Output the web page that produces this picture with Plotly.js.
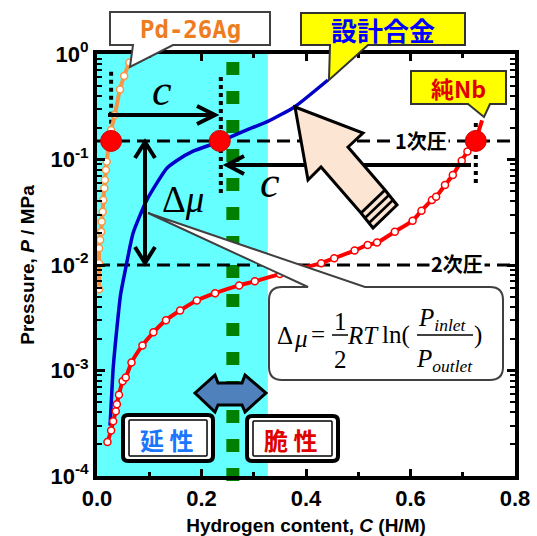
<!DOCTYPE html>
<html>
<head>
<meta charset="utf-8">
<script src="https://cdn.plot.ly/plotly-3.0.1.min.js"></script>
<style>html,body{margin:0;padding:0;background:#fff;}#chart{width:537px;height:536px;}</style>
</head>
<body>
<div id="chart"></div>
<script>
// ---------- data ----------
const pdC = [0.004, 0.004, 0.004, 0.006, 0.008, 0.009, 0.011, 0.012, 0.014, 0.015, 0.017, 0.0185, 0.027, 0.034, 0.044, 0.052, 0.062];
const pdP = [0.0059, 0.0104, 0.0144, 0.0173, 0.0207, 0.0257, 0.032, 0.0413, 0.0533, 0.064, 0.0795, 0.095, 0.19, 0.264, 0.46, 0.62, 0.83];

const alloyC = [0.025, 0.031, 0.038, 0.045, 0.055, 0.069, 0.095, 0.133, 0.153, 0.184, 0.235, 0.286, 0.327, 0.378, 0.442];
const alloyP = [3.0e-4, 1.06e-3, 2.5e-3, 5.2e-3, 9.4e-3, 0.020, 0.041, 0.082, 0.098, 0.120, 0.148, 0.190, 0.230, 0.315, 0.567];

const nbC = [0.020, 0.027, 0.031, 0.036, 0.038, 0.042, 0.049, 0.055, 0.066, 0.087, 0.108, 0.132, 0.159, 0.191, 0.226, 0.272, 0.302, 0.35, 0.39, 0.429, 0.454, 0.493, 0.518, 0.536, 0.570, 0.604, 0.621, 0.641, 0.649, 0.666, 0.681, 0.698, 0.709];
const nbP = [2.1e-4, 2.7e-4, 3.3e-4, 4.1e-4, 4.8e-4, 5.9e-4, 7.9e-4, 8.6e-4, 1.19e-3, 1.73e-3, 2.3e-3, 3.0e-3, 3.7e-3, 4.6e-3, 5.4e-3, 6.4e-3, 7.0e-3, 8.2e-3, 9.3e-3, 0.0104, 0.0116, 0.0137, 0.0155, 0.0163, 0.0207, 0.0263, 0.0327, 0.0413, 0.0444, 0.0573, 0.0713, 0.0975, 0.119];
const nbTailC = [0.709, 0.725, 0.737];
const nbTailP = [0.119, 0.153, 0.235];

const pointC = [0.027, 0.235, 0.725];
const pointP = [0.15, 0.15, 0.15];

const levelP = [0.15, 0.01];

const guideC = [0.027, 0.237, 0.725];
const guideTop = [0.68, 0.605, 0.222];
const guideBottom = [0.15, 0.048, 0.0573];

const ductileLimit = 0.327;
const boundaryC = 0.26;

const xTickVals = [0, 0.2, 0.4, 0.6, 0.8];
const xTickText = ['0.0', '0.2', '0.4', '0.6', '0.8'];
const yTickVals = [1e-4, 1e-3, 1e-2, 1e-1, 1];
const yTickText = ['10<sup>-4</sup>', '10<sup>-3</sup>', '10<sup>-2</sup>', '10<sup>-1</sup>', '10<sup>0</sup>'];

// ---------- helpers ----------
const L = 97, R = 515, T = 54, B = 476;
const fx = px => (px - L) / (R - L);
const fy = py => (B - py) / (B - T);
const P = (x, y) => fx(x).toFixed(4) + ',' + fy(y).toFixed(4);
function poly(pts, close) {
  let s = 'M ' + P(pts[0][0], pts[0][1]);
  for (let i = 1; i < pts.length; i++) s += ' L ' + P(pts[i][0], pts[i][1]);
  return s + (close ? ' Z' : '');
}
function pshape(path, fill, color, width, layer) {
  return {type: 'path', xref: 'paper', yref: 'paper', path: path,
          fillcolor: fill || 'rgba(0,0,0,0)', line: {color: color || 'black', width: width == null ? 2 : width},
          layer: layer || 'above'};
}
function roundRect(x0, y0, x1, y1, r) {
  return 'M ' + P(x0 + r, y0) + ' L ' + P(x1 - r, y0) + ' Q ' + P(x1, y0) + ' ' + P(x1, y0 + r) +
         ' L ' + P(x1, y1 - r) + ' Q ' + P(x1, y1) + ' ' + P(x1 - r, y1) +
         ' L ' + P(x0 + r, y1) + ' Q ' + P(x0, y1) + ' ' + P(x0, y1 - r) +
         ' L ' + P(x0, y0 + r) + ' Q ' + P(x0, y0) + ' ' + P(x0 + r, y0) + ' Z';
}
function ann(text, x, y, font, extra) {
  return Object.assign({text: text, x: fx(x), y: fy(y), xref: 'paper', yref: 'paper',
    showarrow: false, xanchor: 'center', yanchor: 'middle', font: font}, extra || {});
}
const SANS = 'Liberation Sans, Arial, sans-serif';
const SERIF = 'Liberation Serif, Times New Roman, serif';
const CJK = 'Noto Sans CJK JP, sans-serif';

// ---------- traces ----------
const traces = [];
levelP.forEach(p => traces.push({x: [0, 0.8], y: [p, p], mode: 'lines', hoverinfo: 'skip',
  line: {color: 'black', width: 3, dash: '13px,7px'}, showlegend: false}));
guideC.forEach((c, i) => traces.push({x: [c, c], y: [guideTop[i], guideBottom[i]], mode: 'lines', hoverinfo: 'skip',
  line: {color: 'black', width: 4, dash: '4px,4px'}, showlegend: false}));
traces.push({x: pdC, y: pdP, mode: 'lines+markers', showlegend: false,
  line: {color: '#f79646', width: 4, shape: 'spline', smoothing: 0.6},
  marker: {size: 7, color: 'white', line: {color: '#f79646', width: 1.5}}});
traces.push({x: alloyC, y: alloyP, mode: 'lines', showlegend: false,
  line: {color: '#0000c8', width: 3.5, shape: 'spline', smoothing: 0.5}});
traces.push({x: nbTailC, y: nbTailP, mode: 'lines', showlegend: false,
  line: {color: '#ff0000', width: 4}});
traces.push({x: nbC, y: nbP, mode: 'lines+markers', showlegend: false,
  line: {color: '#ff0000', width: 4, shape: 'spline', smoothing: 0.6},
  marker: {size: 7, color: 'white', line: {color: '#ff0000', width: 1.5}}});
traces.push({x: pointC, y: pointP, mode: 'markers', showlegend: false,
  marker: {size: 21, color: '#ff0000', line: {color: '#d00000', width: 1}}});

// ---------- shapes ----------
const shapes = [];
shapes.push({type: 'rect', xref: 'x', yref: 'paper', x0: 0, x1: ductileLimit, y0: 0, y1: 1,
  fillcolor: '#66ffff', line: {width: 0}, layer: 'below'});
shapes.push({type: 'line', xref: 'x', yref: 'paper', x0: boundaryC, x1: boundaryC, y0: fy(62), y1: fy(482),
  line: {color: '#008000', width: 13, dash: '13px,16px'}, layer: 'below'});

// arrows
shapes.push(pshape('M ' + P(108, 115) + ' L ' + P(214, 115) + ' M ' + P(197, 106) + ' L ' + P(215, 115) + ' L ' + P(197, 124), null, 'black', 4));
shapes.push(pshape('M ' + P(471, 165) + ' L ' + P(228, 165) + ' M ' + P(244, 156) + ' L ' + P(227, 165) + ' L ' + P(244, 174), null, 'black', 4));
shapes.push(pshape('M ' + P(145, 143) + ' L ' + P(145, 262) + ' M ' + P(135, 158) + ' L ' + P(145, 142) + ' L ' + P(155, 158) +
  ' M ' + P(135, 247) + ' L ' + P(145, 263) + ' L ' + P(155, 247), null, 'black', 4));

// formula callout
shapes.push(pshape('M ' + P(282, 287) + ' L ' + P(308, 287) + ' L ' + P(148, 213) + ' L ' + P(365, 287) + ' L ' + P(490, 287) +
  ' Q ' + P(503, 287) + ' ' + P(503, 300) + ' L ' + P(503, 367) + ' Q ' + P(503, 380) + ' ' + P(490, 380) +
  ' L ' + P(282, 380) + ' Q ' + P(269, 380) + ' ' + P(269, 367) + ' L ' + P(269, 300) + ' Q ' + P(269, 287) + ' ' + P(282, 287) + ' Z',
  'white', '#404040', 2));
shapes.push(pshape(poly([[332, 335], [348, 335]]), null, 'black', 1.5));
shapes.push(pshape(poly([[417, 335], [473, 335]]), null, 'black', 1.5));

// big peach arrow
shapes.push(pshape(poly([[295, 107], [363, 133], [348, 147], [385, 190], [397, 205], [373, 228], [361, 213], [321, 167], [308, 180]], true),
  '#fde5d3', 'black', 3));
shapes.push(pshape(poly([[385, 190], [361, 213]]), null, 'black', 3));
shapes.push(pshape(poly([[389, 195], [365, 218]]), null, 'black', 2.5));
shapes.push(pshape(poly([[393, 200], [369, 223]]), null, 'black', 2.5));

// double arrow
shapes.push(pshape(poly([[195, 393], [215, 375], [218, 383], [242, 383], [245, 375], [266, 393], [245, 412], [242, 405], [218, 405], [215, 412]], true),
  '#4f81bd', 'black', 3));

// ductile / brittle boxes
shapes.push(pshape(roundRect(123, 415, 213, 461, 5), 'white', 'black', 4));
shapes.push(pshape(roundRect(129, 420, 207, 456, 1), null, 'black', 1.5));
shapes.push(pshape(roundRect(247, 416, 338, 461, 5), 'white', 'black', 4));
shapes.push(pshape(roundRect(253, 421, 332, 456, 1), null, 'black', 1.5));

// label callouts
shapes.push(pshape(poly([[110, 12], [270, 12], [270, 45], [173, 45], [130, 67], [133, 45], [110, 45]], true), 'white', '#404040', 2));
shapes.push(pshape(poly([[301, 13], [465, 13], [465, 45], [368, 45], [329, 80], [330, 45], [301, 45]], true), '#ffff00', '#333333', 2));
shapes.push(pshape(poly([[411, 71], [506, 71], [506, 104], [490, 104], [484, 117], [468, 104], [411, 104]], true), '#ffff00', '#333333', 2));

// ---------- annotations ----------
const fSerif = {family: SERIF, size: 25, color: 'black'};
const annotations = [
  ann('Pd-26Ag', 190, 30, {family: 'DejaVu Sans Mono, monospace', size: 24, color: '#ee7d22', weight: 'bold'}),
  ann('設計合金', 383, 29, {family: CJK, size: 26, color: '#0000ff', weight: 'bold'}),
  ann('純Nb', 458, 88, {family: CJK, size: 23, color: '#e00000', weight: 'bold'}),
  ann('1次圧', 421, 140, {family: CJK, size: 20, color: 'black', weight: 'bold'}, {bgcolor: 'white', borderpad: 1}),
  ann('2次圧', 457, 263, {family: CJK, size: 20, color: 'black', weight: 'bold'}, {bgcolor: 'white', borderpad: 1}),
  ann('延 性', 166, 439, {family: CJK, size: 24, color: '#1a75ff', weight: 'bold'}),
  ann('脆 性', 290, 439, {family: CJK, size: 24, color: '#e00000', weight: 'bold'}),
  ann('<i>c</i>', 162, 90, {family: SERIF, size: 44, color: 'black'}),
  ann('<i>c</i>', 270, 182, {family: SERIF, size: 44, color: 'black'}),
  ann('Δ<i>μ</i>', 183, 199, {family: SERIF, size: 37, color: 'black'}),
  ann('Δ', 285, 335, fSerif),
  ann('<i>μ</i>', 301, 338, fSerif),
  ann('=', 318, 334, fSerif),
  ann('1', 340, 321, fSerif),
  ann('2', 340, 359, fSerif),
  ann('<i>RT</i>', 363, 335, fSerif),
  ann('ln(', 396, 335, fSerif),
  ann('<i>P</i><sub><i>inlet</i></sub>', 442, 319, fSerif),
  ann('<i>P</i><sub><i>outlet</i></sub>', 444, 360, fSerif),
  ann(')', 478, 335, fSerif)
];

// minor tick positions for the log axis
const yMinor = [];
for (let e = -4; e < 0; e++) for (let k = 2; k <= 9; k++) yMinor.push(k * Math.pow(10, e));

const tickFont = {family: SANS, size: 22, color: 'black', weight: 'bold'};
const titleFont = {family: SANS, size: 19, color: 'black', weight: 'bold'};
const layout = {
  width: 537, height: 536,
  margin: {l: L, r: 537 - R, t: T, b: 536 - B},
  paper_bgcolor: 'white', plot_bgcolor: 'white',
  showlegend: false,
  xaxis: {range: [0, 0.8], tickmode: 'array', tickvals: xTickVals, ticktext: xTickText,
    ticks: 'inside', ticklen: 7, tickwidth: 3, tickcolor: 'black',
    minor: {dtick: 0.1, ticks: 'inside', ticklen: 4, tickwidth: 3, tickcolor: 'black', showgrid: false},
    showline: true, linewidth: 4, linecolor: 'black', mirror: 'ticks',
    showgrid: false, zeroline: false, tickfont: tickFont,
    title: {text: 'Hydrogen content, <i>C</i> (H/M)', font: titleFont, standoff: 10}},
  yaxis: {type: 'log', range: [-4, 0], tickmode: 'array', tickvals: yTickVals, ticktext: yTickText,
    ticks: 'inside', ticklen: 8, tickwidth: 3, tickcolor: 'black',
    minor: {tickmode: 'array', tickvals: yMinor, ticks: 'inside', ticklen: 5, tickwidth: 2, tickcolor: 'black', showgrid: false},
    showline: true, linewidth: 4, linecolor: 'black', mirror: 'ticks',
    showgrid: false, zeroline: false, tickfont: tickFont,
    title: {text: 'Pressure, <i>P</i> / MPa', font: titleFont, standoff: 12}},
  shapes: shapes,
  annotations: annotations
};

Plotly.newPlot('chart', traces, layout, {staticPlot: true, displayModeBar: false});
</script>
</body>
</html>
